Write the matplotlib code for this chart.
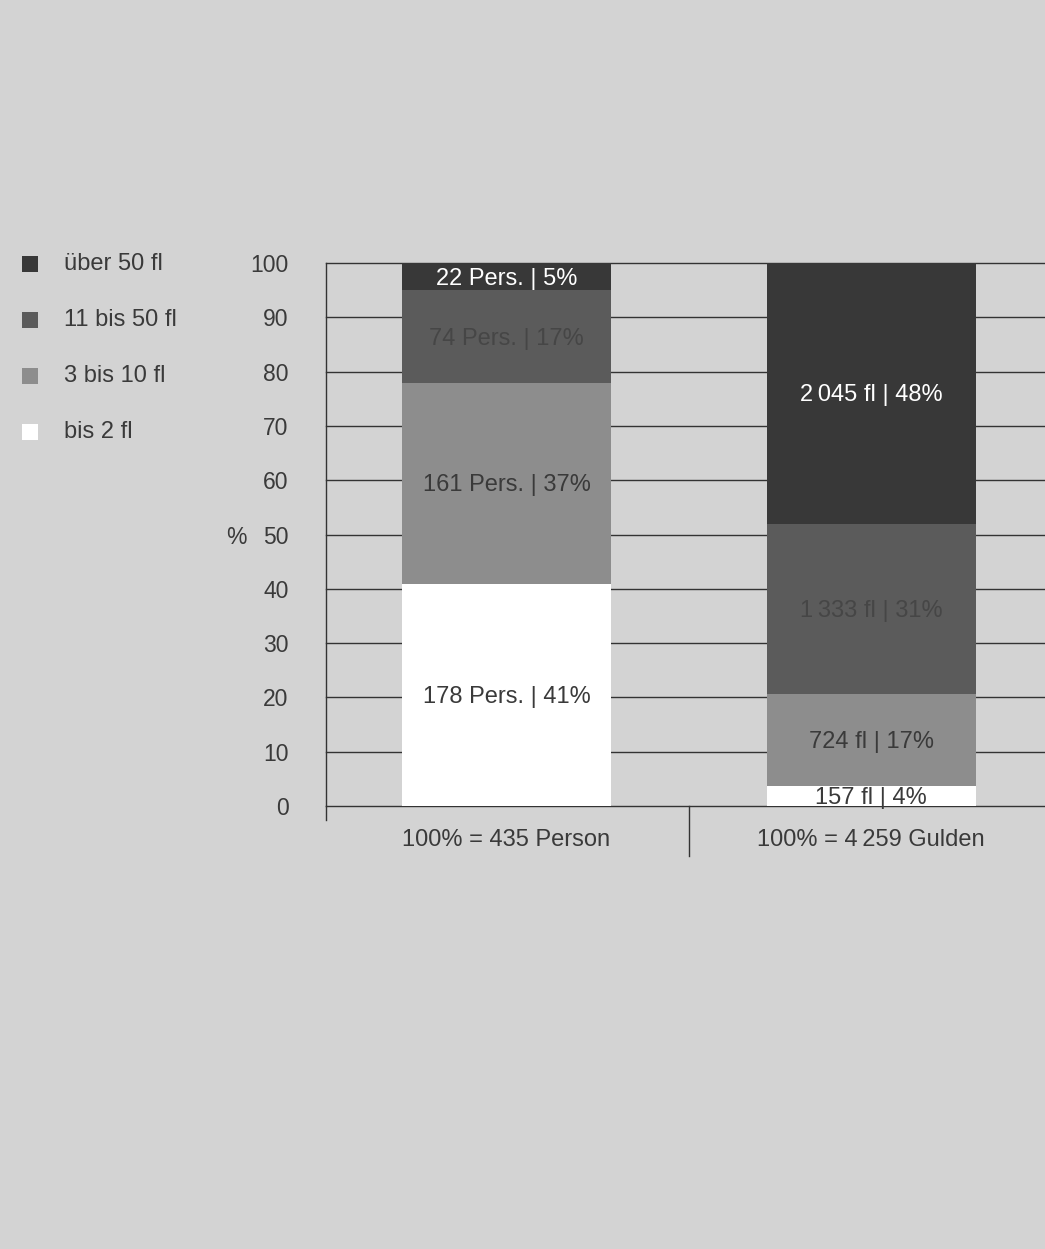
import matplotlib
matplotlib.use("Agg")
import matplotlib.pyplot as plt
from matplotlib.patches import Rectangle
import numpy as np

plt.rcParams['font.family'] = ['Liberation Sans', 'DejaVu Sans']

# ---- data ----
categories = ["100% = 435 Person", "100% = 4\u2009259 Gulden"]
series = ["bis 2 fl", "3 bis 10 fl", "11 bis 50 fl", "über 50 fl"]
persons = [178, 161, 74, 22]
persons_pct = [41, 37, 17, 5]
gulden = [157, 724, 1333, 2045]
gulden_pct = [4, 17, 31, 48]
person_labels = ["178 Pers. | 41%", "161 Pers. | 37%", "74 Pers. | 17%", "22 Pers. | 5%"]
gulden_labels = ["157 fl | 4%", "724 fl | 17%", "1\u2009333 fl | 31%", "2\u2009045 fl | 48%"]
yticks = [0, 10, 20, 30, 40, 50, 60, 70, 80, 90, 100]

# ---- style ----
bg = "#d3d3d3"
seg_colors = ["#ffffff", "#8d8d8d", "#5b5b5b", "#383838"]
text_colors = ["#3a3a3a", "#3a3a3a", "#464646", "#ffffff"]
line_col = "#333333"
fs = 17

W, H = 1045, 1249
fig = plt.figure(figsize=(W / 100, H / 100), dpi=100)
fig.patch.set_facecolor(bg)

ax_l, ax_r, ax_t, ax_b = 326, 1045, 263, 806
ax = fig.add_axes([ax_l / W, 1 - ax_b / H, (ax_r - ax_l) / W, (ax_b - ax_t) / H])
ax.set_facecolor(bg)
ax.set_xlim(-0.495, 1.477)
ax.set_ylim(0, 100)

px = 100.0 / (ax_b - ax_t)
values = [persons, gulden]
labels = [person_labels, gulden_labels]
bar_w = 0.573

for i, (vals, labs) in enumerate(zip(values, labels)):
    total = float(sum(vals))
    pct = [v / total * 100 for v in vals]
    bottom = 0.0
    for j, (p, lab) in enumerate(zip(pct, labs)):
        ax.bar(i, p, bottom=bottom, width=bar_w, color=seg_colors[j],
               edgecolor="none", zorder=3)
        ax.text(i, bottom + p / 2 - 2 * px, lab, ha="center", va="center",
                fontsize=fs, color=text_colors[j], zorder=4)
        bottom += p

# gridlines behind bars
for t in yticks:
    ax.axhline(t, color=line_col, lw=1.0, zorder=1, clip_on=False)

for s in ["top", "right", "bottom"]:
    ax.spines[s].set_visible(False)
ax.spines["left"].set_color(line_col)
ax.spines["left"].set_linewidth(1.0)

ax.set_yticks(yticks)
ax.set_yticklabels([str(t) for t in yticks], fontsize=16.5, color="#3a3a3a")
ax.tick_params(axis="y", length=0, pad=27)
ax.set_xticks([])

# extended spine and divider below axis
ax.plot([-0.495, -0.495], [0, -14 * px], color=line_col, lw=1.0, clip_on=False)
ax.plot([0.5, 0.5], [0, -50 * px], color=line_col, lw=1.0, clip_on=False)

# category labels
for i, c in enumerate(categories):
    ax.text(i, -34 * px, c, ha="center", va="center", fontsize=fs, color="#3a3a3a")

# % label
fig.text(236 / W, 1 - 538 / H, "%", ha="center", va="center", fontsize=16.5, color="#3a3a3a")

# legend (manual)
leg_rows = [264, 320, 376, 432]
leg_order = [3, 2, 1, 0]
for y, j in zip(leg_rows, leg_order):
    fig.patches.append(Rectangle((22 / W, 1 - (y + 8) / H), 16 / W, 16 / H,
                                 transform=fig.transFigure, facecolor=seg_colors[j],
                                 edgecolor="none"))
    fig.text(64 / W, 1 - y / H, series[j], ha="left", va="center",
             fontsize=fs, color="#3a3a3a")

fig.savefig("out.png", dpi=100, facecolor=bg)
